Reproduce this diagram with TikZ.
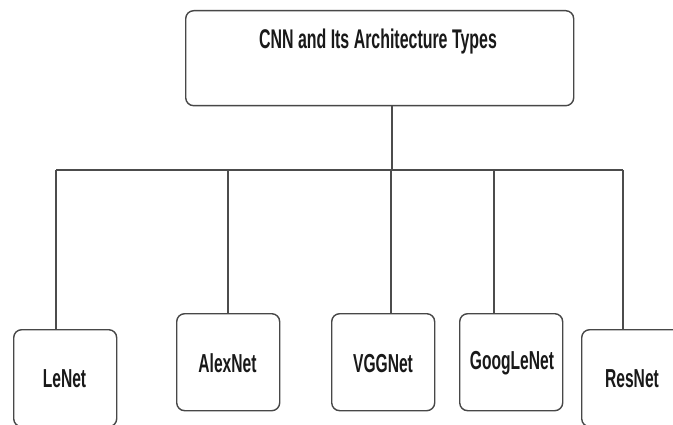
\documentclass[tikz,border=0pt]{standalone}
\usepackage{fontspec}
\newfontfamily\labelfont{Liberation Sans}[FakeStretch=0.6]
\newfontfamily\titlefont{Liberation Sans}[FakeStretch=0.59]
\begin{document}
\begin{tikzpicture}[x=1pt,y=-1pt,
  box/.style={draw=black!72, line width=1.4pt, rounded corners=8pt, fill=white},
  archbox/.style={box, minimum width=103pt, minimum height=97pt, inner sep=0pt, anchor=north west},
  link/.style={draw=black!70, line width=1.4pt},
  lbl/.style={font=\labelfont\bfseries\fontsize{26}{30}\selectfont, text=black!90, anchor=base, inner sep=0pt}]
\useasboundingbox (0,0) rectangle (673,425);
\fill[white] (0,0) rectangle (673,425);

% root box with its title near the top edge
\node[box, minimum width=388pt, minimum height=95pt, inner sep=0pt, anchor=north west] (root) at (185,10) {};
\node[lbl, font=\titlefont\bfseries\fontsize{27}{30}\selectfont] (title) at (378,49) {CNN and Its Architecture Types};

% the five architecture boxes
\node[archbox] (lenet)  at (13,329)  {};
\node[archbox] (alex)   at (176,313) {};
\node[archbox] (vgg)    at (331,313) {};
\node[archbox] (goog)   at (459,313) {};
\node[archbox] (res)    at (581,329) {};

\node[lbl] (tlenet) at (64.5,387) {LeNet};
\node[lbl] (talex)  at (227.5,372) {AlexNet};
\node[lbl] (tvgg)   at (383,372) {VGGNet};
\node[lbl] (tgoog)  at (512,369) {GoogLeNet};
\node[lbl] (tres)   at (632,387) {ResNet};

% branching connectors
\coordinate (hub) at (392,170);
\coordinate (j1) at (56,170);
\coordinate (j2) at (228,170);
\coordinate (j3) at (391,170);
\coordinate (j4) at (494,170);
\coordinate (j5) at (623,170);

\draw[link] (root.south -| hub) -- (hub);
\draw[link] (j1) -- (j5);
\draw[link] (j1) -- (lenet.north -| j1);
\draw[link] (j2) -- (alex.north -| j2);
\draw[link] (j3) -- (vgg.north -| j3);
\draw[link] (j4) -- (goog.north -| j4);
\draw[link] (j5) -- (res.north -| j5);
\end{tikzpicture}
\end{document}
